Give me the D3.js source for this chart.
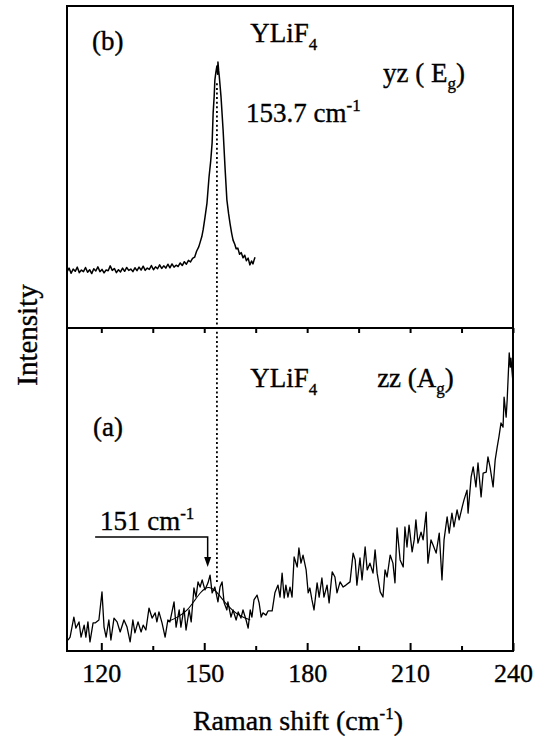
<!DOCTYPE html>
<meta charset="utf-8">
<script src="https://d3js.org/d3.v7.min.js"></script>
<style>
  body { margin: 0; background: #fff; }
  text { font-family: "Liberation Serif", "Times New Roman", serif; fill: #000; stroke: #000; stroke-width: 0.35px; }
</style>
<body>
<div id="my_dataviz"></div>
<script>
// (b) yz (Eg) spectrum
const shiftB = [110.0,110.6,111.2,111.8,112.4,113.0,113.6,114.2,114.8,115.4,116.0,116.6,117.2,117.8,118.4,119.0,119.6,120.2,120.8,121.4,
  122.0,122.6,123.2,123.8,124.4,125.0,125.6,126.2,126.8,127.4,128.0,128.6,129.2,129.8,130.4,131.0,131.6,132.2,132.8,133.4,
  134.0,134.6,135.2,135.8,136.4,137.0,137.6,138.2,138.8,139.4,140.0,140.6,141.2,141.8,142.4,143.0,143.6,144.2,144.8,145.4,
  146.0,146.6,147.2,147.8,148.4,148.8,149.3,149.7,150.2,150.8,151.4,151.9,152.3,152.6,152.9,153.1,153.4,153.7,153.9,154.0,
  154.2,154.4,154.9,155.5,156.1,156.6,157.1,157.5,158.0,158.4,158.9,159.3,159.8,160.3,160.8,161.3,161.8,162.3,162.8,163.3,
  163.8,164.2,164.5,164.8]
const intB = [17.4,18.6,17.0,18.3,17.6,18.9,17.2,18.0,17.5,18.8,17.3,18.1,16.9,18.4,17.7,19.0,17.5,18.2,17.1,18.0,
  17.8,19.3,17.9,18.5,17.2,18.1,17.4,18.6,17.6,18.8,17.9,18.3,17.5,18.7,17.8,18.9,18.0,19.2,17.9,18.6,
  18.2,19.4,18.1,19.0,18.4,19.6,18.5,19.3,18.6,19.8,18.7,19.9,18.9,19.5,19.1,20.2,19.4,20.6,19.8,21.0,
  20.5,21.6,22.0,23.9,25.2,26.6,28.4,30.6,34.2,38.8,46.9,52.0,57.5,66.8,72.0,77.0,79.5,81.4,78.8,82.6,
  80.0,78.0,71.7,61.5,49.1,39.8,35.5,32.6,29.4,27.3,26.0,24.6,24.8,22.9,23.4,21.8,22.6,20.9,21.7,19.6,
  20.8,19.9,21.0,22.0]

// (a) zz (Ag) spectrum
const shiftA = [110.3,110.9,112.0,112.6,113.5,114.1,115.0,115.5,116.1,116.7,117.6,118.2,119.3,120.2,120.8,121.4,122.2,122.8,123.7,124.6,
  125.5,126.6,127.5,128.4,129.2,129.8,130.7,131.6,132.2,133.0,133.9,134.8,135.7,136.2,136.8,137.7,138.6,139.4,140.0,141.2,
  141.8,142.7,143.2,144.1,144.7,145.6,146.2,147.0,147.6,148.2,
  148.8,149.4,150.2,151.1,151.7,152.3,153.1,154.0,154.6,155.2,155.8,156.6,156.9,157.8,158.4,159.3,159.9,160.7,161.3,162.2,
  162.8,163.4,163.9,164.5,165.4,166.0,166.6,167.1,168.0,168.6,169.8,170.6,171.5,172.1,172.7,173.3,173.8,174.4,175.0,175.6,
  176.2,177.1,177.6,178.2,178.8,179.7,180.3,180.8,181.4,182.0,182.9,183.5,184.3,184.9,185.8,186.4,187.3,
  188.1,188.7,189.6,190.5,191.3,192.5,193.4,194.0,194.5,195.4,196.0,196.9,197.5,198.3,199.2,199.8,200.4,201.3,202.1,202.7,
  203.3,204.2,205.0,205.6,206.2,207.1,208.0,208.5,209.1,209.7,210.6,211.2,211.7,212.3,213.2,213.8,214.7,215.2,
  216.1,216.7,217.6,218.5,219.3,219.9,220.8,221.4,222.2,222.8,223.7,224.3,225.2,225.7,226.6,226.9,227.8,228.4,229.2,229.8,
  230.7,231.3,232.2,232.7,233.3,234.2,234.8,235.4,235.9,236.5,237.1,237.4,238.0,238.3,238.9,239.2,239.4,240.0]
const intA = [3.4,4.3,10.5,7.1,9.0,4.3,8.0,4.3,9.0,2.8,8.7,8.7,9.6,18.3,7.4,4.3,9.6,3.4,10.2,9.0,
  5.9,9.6,7.4,2.8,9.6,5.6,9.0,5.9,8.0,6.5,13.3,10.2,11.8,9.0,12.1,8.7,4.3,9.6,9.0,15.2,
  7.4,12.7,7.4,13.3,6.5,12.7,9.0,19.5,16.7,21.4,
  19.8,22.0,18.9,21.1,23.5,18.0,19.8,15.2,19.8,21.4,14.9,12.7,15.2,10.5,12.7,9.6,12.1,10.2,12.7,9.6,
  7.1,12.7,10.5,15.8,17.3,14.9,10.5,11.8,11.1,12.4,12.4,18.0,20.4,16.7,24.1,16.4,20.4,16.7,19.8,16.7,
  29.1,26.0,31.9,27.2,29.7,25.1,18.0,19.5,15.8,12.7,21.1,16.7,22.6,16.7,20.4,14.9,24.5,
  22.9,18.0,21.4,19.8,20.4,21.4,30.3,28.2,20.4,28.8,22.0,32.2,25.1,27.2,24.1,31.3,24.1,18.3,16.7,25.1,
  22.9,29.7,27.2,21.1,38.1,28.2,26.0,38.4,32.2,39.0,30.7,34.4,40.6,33.4,36.8,34.4,43.0,27.2,
  34.4,32.8,30.3,36.5,22.0,34.4,41.5,36.5,42.7,38.4,43.7,40.6,44.6,46.7,49.8,42.7,53.9,57.0,50.8,58.2,
  47.7,55.1,55.4,60.1,57.0,50.8,59.1,63.2,66.3,70.6,69.3,78.6,72.4,77.7,92.3,87.9,90.7,83.0]

// smooth fit through the 151 cm-1 band
const shiftFit = [139.2,142.4,145.0,147.3,148.8,150.2,151.7,153.1,154.6,156.1,158.1,160.4,163.4]
const intFit = [9.0,10.5,12.4,15.8,18.0,19.5,19.8,18.9,17.0,14.9,12.7,10.8,9.6]

const tickMajor = [120, 150, 180, 210, 240]
const tickMinor = [135, 165, 195, 225]
const peakB = 153.7, peakA = 151

const width = 546, height = 736
const padL = 67, padR = 513, padT = 6, midY = 328, padB = 651

const svg = d3.select("#my_dataviz")
  .append("svg")
    .attr("width", width)
    .attr("height", height)

const x = d3.scaleLinear().domain([110, 240]).range([padL, padR])
const yB = d3.scaleLinear().domain([0, 100]).range([midY, padT])
const yA = d3.scaleLinear().domain([0, 100]).range([padB, midY])

const lineB = d3.line().x(d => x(d[0])).y(d => yB(d[1]))
const lineA = d3.line().x(d => x(d[0])).y(d => yA(d[1]))

// dotted marker at the Eg peak
svg.append("line")
  .attr("x1", x(peakB)).attr("x2", x(peakB))
  .attr("y1", yB(76)).attr("y2", yA(21.4))
  .attr("stroke", "black")
  .attr("stroke-width", 1.8)
  .attr("stroke-dasharray", "2,2.6")

svg.append("path")
  .datum(d3.zip(shiftB, intB))
  .attr("d", lineB)
  .attr("fill", "none")
  .attr("stroke", "black")
  .attr("stroke-width", 1.5)
  .attr("stroke-linejoin", "round")

svg.append("path")
  .datum(d3.zip(shiftA, intA))
  .attr("d", lineA)
  .attr("fill", "none")
  .attr("stroke", "black")
  .attr("stroke-width", 1.3)
  .attr("stroke-linejoin", "round")

svg.append("path")
  .datum(d3.zip(shiftFit, intFit))
  .attr("d", d3.line().x(d => x(d[0])).y(d => yA(d[1])).curve(d3.curveBasis))
  .attr("fill", "none")
  .attr("stroke", "black")
  .attr("stroke-width", 1.1)

// frame and divider
svg.append("rect")
  .attr("x", padL).attr("y", padT)
  .attr("width", padR - padL).attr("height", padB - padT)
  .attr("fill", "none")
  .attr("stroke", "black")
  .attr("stroke-width", 2)
svg.append("line")
  .attr("x1", padL).attr("x2", padR)
  .attr("y1", midY).attr("y2", midY)
  .attr("stroke", "black")
  .attr("stroke-width", 2)

// ticks
function styleAxis(g) {
  g.select(".domain").remove()
  g.selectAll("line").attr("stroke-width", 2)
  g.selectAll("text").style("font-size", "26px")
}
svg.append("g")
  .attr("transform", `translate(0,${padB})`)
  .call(d3.axisBottom(x).tickValues(tickMajor).tickSizeInner(-8).tickSizeOuter(0).tickPadding(13))
  .call(styleAxis)
svg.append("g")
  .attr("transform", `translate(0,${padB})`)
  .call(d3.axisBottom(x).tickValues(tickMinor).tickSizeInner(-5).tickSizeOuter(0).tickFormat(""))
  .call(styleAxis)
svg.append("g")
  .attr("transform", `translate(0,${midY})`)
  .call(d3.axisBottom(x).tickValues(tickMajor.concat(tickMinor)).tickSizeInner(5).tickSizeOuter(0).tickFormat(""))
  .call(styleAxis)

// arrow for 151 cm-1
const ax = x(peakA), ay = yA(35.3), tip = yA(26.0)
svg.append("path")
  .attr("d", `M${x(118.2)},${ay}H${ax}V${tip - 8}`)
  .attr("fill", "none")
  .attr("stroke", "black")
  .attr("stroke-width", 1.5)
svg.append("path")
  .attr("d", `M${ax - 3.5},${tip - 10}L${ax + 3.5},${tip - 10}L${ax},${tip}Z`)
  .attr("fill", "black")

// labels
function label(px, py, parts, size) {
  const t = svg.append("text")
    .attr("x", px).attr("y", py)
    .style("font-size", (size || 27) + "px")
  parts.forEach(p => {
    const s = t.append("tspan").text(p[0])
    if (p[1]) s.attr("dy", p[1])
    if (p[2]) s.style("font-size", p[2] + "px")
  })
  return t
}

label(x(117.3), yB(86.3), [["(b)"]])
label(x(163.4), yB(88.8), [["YLiF"], ["4", 8, 17]])
label(x(202.1), yB(76.4), [["yz ( E"], ["g", 7, 17], [")", -7]])
label(x(162.2), yB(64.0), [["153.7 cm"], ["-1", -11, 17]])

label(x(117.6), yA(66.5), [["(a)"]])
label(x(163.4), yA(81.7), [["YLiF"], ["4", 8, 17]])
label(x(200.4), yA(81.7), [["zz (A"], ["g", 7, 17], [")", -7]])
label(x(119.6), yA(37.5), [["151 cm"], ["-1", -11, 17]])

svg.append("text")
  .attr("transform", "translate(37,335) rotate(-90)")
  .attr("text-anchor", "middle")
  .style("font-size", "29px")
  .text("Intensity")

label(298, 730, [["Raman shift (cm"], ["-1", -11, 17], [")", 11]], 28)
  .attr("text-anchor", "middle")
</script>
</body>
